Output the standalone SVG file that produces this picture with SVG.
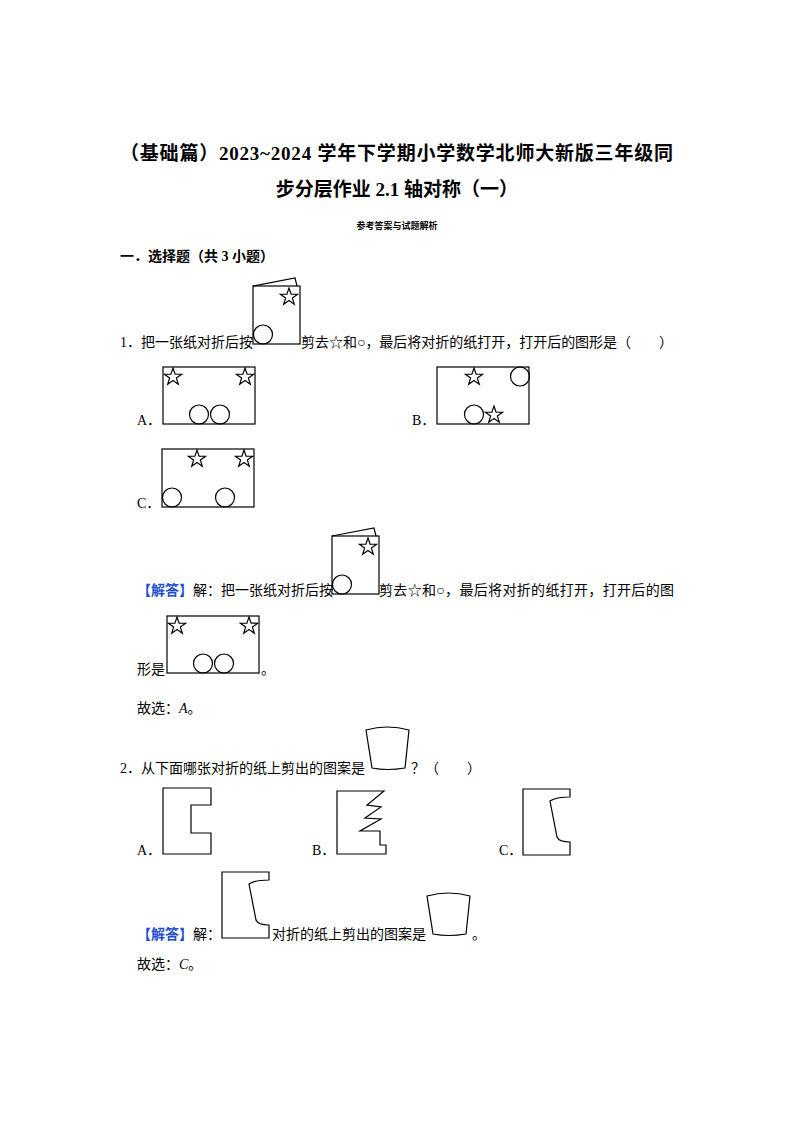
<svg xmlns="http://www.w3.org/2000/svg" width="794" height="1123" viewBox="0 0 794 1123">
<style>
.t{font-family:"Liberation Serif","Noto Sans CJK SC",serif;font-size:14px;fill:#000}
.h{font-family:"Liberation Serif","Noto Sans CJK SC",serif;font-size:19px;font-weight:bold;fill:#000}
.s{fill:none;stroke:#000;stroke-width:1.2}
.b{fill:#1f4fd0;font-weight:bold}
</style>
<defs>
<polygon id="star" class="s" points="0,-9 2.1,-2.9 8.6,-2.8 3.4,1.1 5.3,7.3 0,3.6 -5.3,7.3 -3.4,1.1 -8.6,-2.8 -2.1,-2.9"/>
<g id="fold">
<rect class="s" x="0" y="0" width="47" height="58"/>
<path class="s" d="M0,0 L42,-8 L44,0"/>
<use href="#star" x="36" y="11"/>
<circle class="s" cx="10" cy="48.5" r="9.5"/>
</g>
<g id="optA">
<rect class="s" x="0" y="0" width="92" height="57"/>
<use href="#star" x="10" y="10"/>
<use href="#star" x="82" y="10"/>
<circle class="s" cx="36" cy="47.5" r="9.5"/>
<circle class="s" cx="57" cy="47.5" r="9.5"/>
</g>
<path id="cup" class="s" d="M0,3 Q21.5,-3 43,3 L39,41 Q21.5,44 6,41 Z"/>
<path id="shC" class="s" d="M0,0 H47 V8 Q33,8 27,12 L34,48 Q36,53 47,53 V66 H0 Z"/>
</defs>
<g id="title">
<text class="h" x="120" y="160" textLength="553">（基础篇）2023~2024 学年下学期小学数学北师大新版三年级同</text>
<text class="h" x="397" y="196" text-anchor="middle">步分层作业 2.1 轴对称（一）</text>
<text x="397" y="229" text-anchor="middle" style="font-family:'Noto Sans CJK SC',sans-serif;font-size:9px;font-weight:bold">参考答案与试题解析</text>
<text x="120" y="261" style="font-family:'Liberation Serif','Noto Sans CJK SC',serif;font-size:14px;font-weight:bold">一．选择题（共 3 小题）</text>
</g>
<g id="q1">
<text class="t" x="120" y="347" textLength="133">1．把一张纸对折后按</text>
<use href="#fold" x="253" y="286"/>
<text class="t" x="301" y="347" textLength="372">剪去☆和○，最后将对折的纸打开，打开后的图形是（　　）</text>
<text class="t" x="137" y="425">A．</text>
<use href="#optA" x="163" y="367"/>
<text class="t" x="412" y="425">B．</text>
<g id="optB">
<rect class="s" x="437" y="367" width="92" height="57"/>
<use href="#star" x="474" y="377"/>
<circle class="s" cx="520" cy="376.5" r="9.5"/>
<circle class="s" cx="474" cy="414.5" r="9.5"/>
<use href="#star" x="494" y="415"/>
</g>
<text class="t" x="137" y="508">C．</text>
<g id="optC">
<rect class="s" x="162" y="449" width="92" height="58"/>
<use href="#star" x="197" y="459"/>
<use href="#star" x="244" y="459"/>
<circle class="s" cx="172" cy="497.5" r="9.5"/>
<circle class="s" cx="225" cy="497.5" r="9.5"/>
</g>
<text class="t" x="137" y="595"><tspan class="b">【解答】</tspan>解：把一张纸对折后按</text>
<use href="#fold" x="332" y="536"/>
<text class="t" x="379" y="595" textLength="295">剪去☆和○，最后将对折的纸打开，打开后的图</text>
<text class="t" x="137" y="674">形是</text>
<use href="#optA" x="167" y="616"/>
<text class="t" x="261" y="674">。</text>
<text class="t" x="137" y="713">故选：<tspan font-style="italic">A</tspan>。</text>
</g>
<g id="q2">
<text class="t" x="120" y="773" textLength="245">2．从下面哪张对折的纸上剪出的图案是</text>
<use href="#cup" x="366" y="727"/>
<text class="t" x="411" y="773">？（　　）</text>
<text class="t" x="137" y="855">A．</text>
<path class="s" d="M163,788 H211 V805 H191 V833 H211 V854 H163 Z"/>
<text class="t" x="312" y="855">B．</text>
<path class="s" d="M337,791 H384 L367,805 L381,807 L365,818 L381,819 L360,831 L380,831 V845 H386 V854 H337 Z"/>
<text class="t" x="499" y="855">C．</text>
<use href="#shC" x="523" y="789"/>
<text class="t" x="137" y="939"><tspan class="b">【解答】</tspan>解：</text>
<use href="#shC" x="222" y="872"/>
<text class="t" x="272" y="939">对折的纸上剪出的图案是</text>
<use href="#cup" x="427" y="893"/>
<text class="t" x="472" y="939">。</text>
<text class="t" x="137" y="969">故选：<tspan font-style="italic">C</tspan>。</text>
</g>
</svg>
